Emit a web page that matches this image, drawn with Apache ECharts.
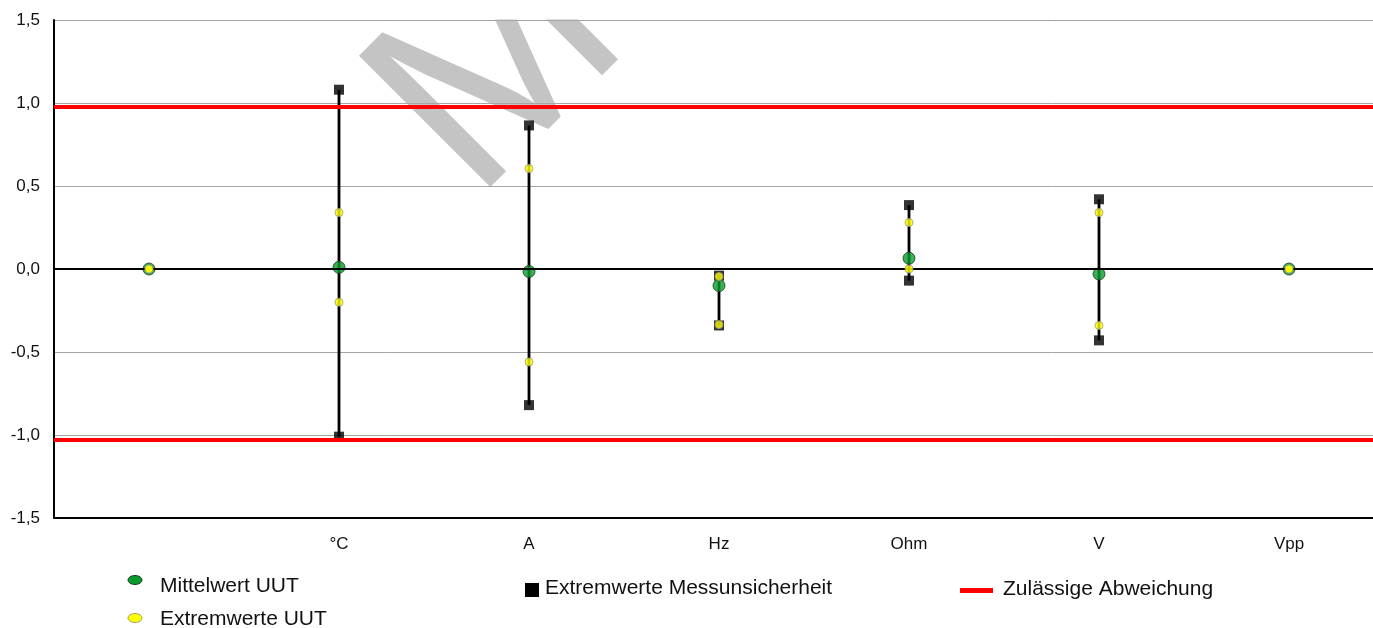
<!DOCTYPE html>
<html>
<head>
<meta charset="utf-8">
<script src="https://cdn.jsdelivr.net/npm/echarts@6/dist/echarts.min.js"></script>
<style>
  html, body { margin: 0; padding: 0; background: #fff; overflow: hidden; }
  #chart { width: 1390px; height: 628px; }
</style>
</head>
<body>
<div id="chart"></div>
<script>
// Units measured; the first column has no unit label
const categories = ['', '°C', 'A', 'Hz', 'Ohm', 'V', 'Vpp'];

// Mean deviation of the unit under test
const meanUUT = [0, 0.01, -0.015, -0.10, 0.065, -0.03, 0];
// Extreme deviations of the unit under test
const uutMax = [0, 0.34, 0.605, -0.045, 0.28, 0.34, 0];
const uutMin = [0, -0.20, -0.56, -0.335, 0.0, -0.34, 0];
// Extreme values including measurement uncertainty
const msuMax = [null, 1.08, 0.865, -0.04, 0.385, 0.42, null];
const msuMin = [null, -1.01, -0.82, -0.34, -0.07, -0.43, null];
// Permitted deviation limits
const limitUpper = 0.985;
const limitLower = -1.03;

const FONT = "'Liberation Sans', Arial, sans-serif";

// vertical bars spanning the uncertainty range for every unit
const rangeData = [];
categories.forEach((c, i) => {
  if (msuMin[i] != null && msuMax[i] != null) rangeData.push([i, msuMin[i], msuMax[i]]);
});

const fmt = v => v.toFixed(1).replace('.', ',');

const chart = echarts.init(document.getElementById('chart'), null, { renderer: 'canvas' });

chart.setOption({
  animation: false,
  backgroundColor: '#ffffff',
  grid: { left: 54, top: 20, width: 1330, height: 498, containLabel: false },
  xAxis: {
    type: 'category',
    data: categories,
    boundaryGap: true,
    axisLine: { show: true, onZero: false, lineStyle: { color: '#000', width: 2 } },
    axisTick: { show: false },
    axisLabel: { color: '#111', fontFamily: FONT, fontSize: 17, margin: 18 },
    splitLine: { show: false }
  },
  yAxis: {
    type: 'value',
    min: -1.5,
    max: 1.5,
    interval: 0.5,
    axisLine: { show: true, lineStyle: { color: '#000', width: 2 } },
    axisTick: { show: false },
    axisLabel: { color: '#111', fontFamily: FONT, fontSize: 17, margin: 14, formatter: fmt },
    splitLine: { show: true, lineStyle: { color: '#a6a6a6', width: 1 } }
  },
  series: [
    {
      name: 'Zulässige Abweichung',
      type: 'line',
      data: [],
      z: 1,
      markLine: {
        silent: true,
        symbol: 'none',
        label: { show: false },
        animation: false,
        data: [
          { yAxis: 0, lineStyle: { color: '#000', width: 2, type: 'solid' } },
          { yAxis: limitUpper, lineStyle: { color: '#ff0000', width: 4, type: 'solid' } },
          { yAxis: limitLower, lineStyle: { color: '#ff0000', width: 4, type: 'solid' } }
        ]
      }
    },
    {
      name: 'Bereich',
      type: 'custom',
      z: 2,
      data: rangeData,
      encode: { x: 0, y: [1, 2] },
      renderItem: function (params, api) {
        const p1 = api.coord([api.value(0), api.value(1)]);
        const p2 = api.coord([api.value(0), api.value(2)]);
        return {
          type: 'line',
          shape: { x1: p1[0], y1: p1[1], x2: p2[0], y2: p2[1] },
          style: { stroke: '#000', lineWidth: 2.8 }
        };
      }
    },
    {
      name: 'Extremwerte Messunsicherheit',
      type: 'scatter',
      z: 3,
      symbol: 'rect',
      symbolSize: 10,
      itemStyle: { color: '#000' },
      data: msuMax
    },
    {
      name: 'Extremwerte Messunsicherheit',
      type: 'scatter',
      z: 3,
      symbol: 'rect',
      symbolSize: 10,
      itemStyle: { color: '#000' },
      data: msuMin
    },
    {
      name: 'Mittelwert UUT',
      type: 'scatter',
      z: 4,
      symbol: 'circle',
      symbolSize: 12,
      itemStyle: { color: '#0a9a2e', borderColor: '#1a3f1a', borderWidth: 1 },
      data: meanUUT
    },
    {
      name: 'Extremwerte UUT',
      type: 'scatter',
      z: 5,
      symbol: 'circle',
      symbolSize: 8,
      itemStyle: { color: '#ffff00', borderColor: '#9a9a7a', borderWidth: 1 },
      data: uutMax
    },
    {
      name: 'Extremwerte UUT',
      type: 'scatter',
      z: 5,
      symbol: 'circle',
      symbolSize: 8,
      itemStyle: { color: '#ffff00', borderColor: '#9a9a7a', borderWidth: 1 },
      data: uutMin
    }
  ],
  graphic: [
    // diagonal watermark letter behind the plot, trimmed at the plot's top edge
    {
      type: 'text', z: -10, x: 422, y: 150, rotation: Math.PI / 4, silent: true,
      style: { text: 'M', font: '270px ' + FONT, fill: '#c4c4c4', align: 'left', verticalAlign: 'middle' }
    },
    { type: 'rect', z: -9, silent: true, shape: { x: 60, y: 0, width: 1330, height: 19.5 }, style: { fill: '#ffffff' } },
    // legend entries
    { type: 'ellipse', shape: { cx: 135, cy: 580, rx: 7, ry: 4.5 }, style: { fill: '#0a9a2e', stroke: '#1a3f1a', lineWidth: 1 } },
    { type: 'text', left: 160, top: 576, style: { text: 'Mittelwert UUT', font: '21px ' + FONT, fill: '#111' } },
    { type: 'ellipse', shape: { cx: 135, cy: 618, rx: 7, ry: 4.5 }, style: { fill: '#ffff00', stroke: '#a0a070', lineWidth: 1 } },
    { type: 'text', left: 160, top: 609, style: { text: 'Extremwerte UUT', font: '21px ' + FONT, fill: '#111' } },
    { type: 'rect', shape: { x: 525, y: 583, width: 14, height: 14 }, style: { fill: '#000' } },
    { type: 'text', left: 545, top: 578, style: { text: 'Extremwerte Messunsicherheit', font: '21px ' + FONT, fill: '#111' } },
    { type: 'rect', shape: { x: 960, y: 588, width: 33, height: 5 }, style: { fill: '#ff0000' } },
    { type: 'text', left: 1003, top: 579, style: { text: 'Zulässige Abweichung', font: '21px ' + FONT, fill: '#111' } }
  ]
});
</script>
</body>
</html>
